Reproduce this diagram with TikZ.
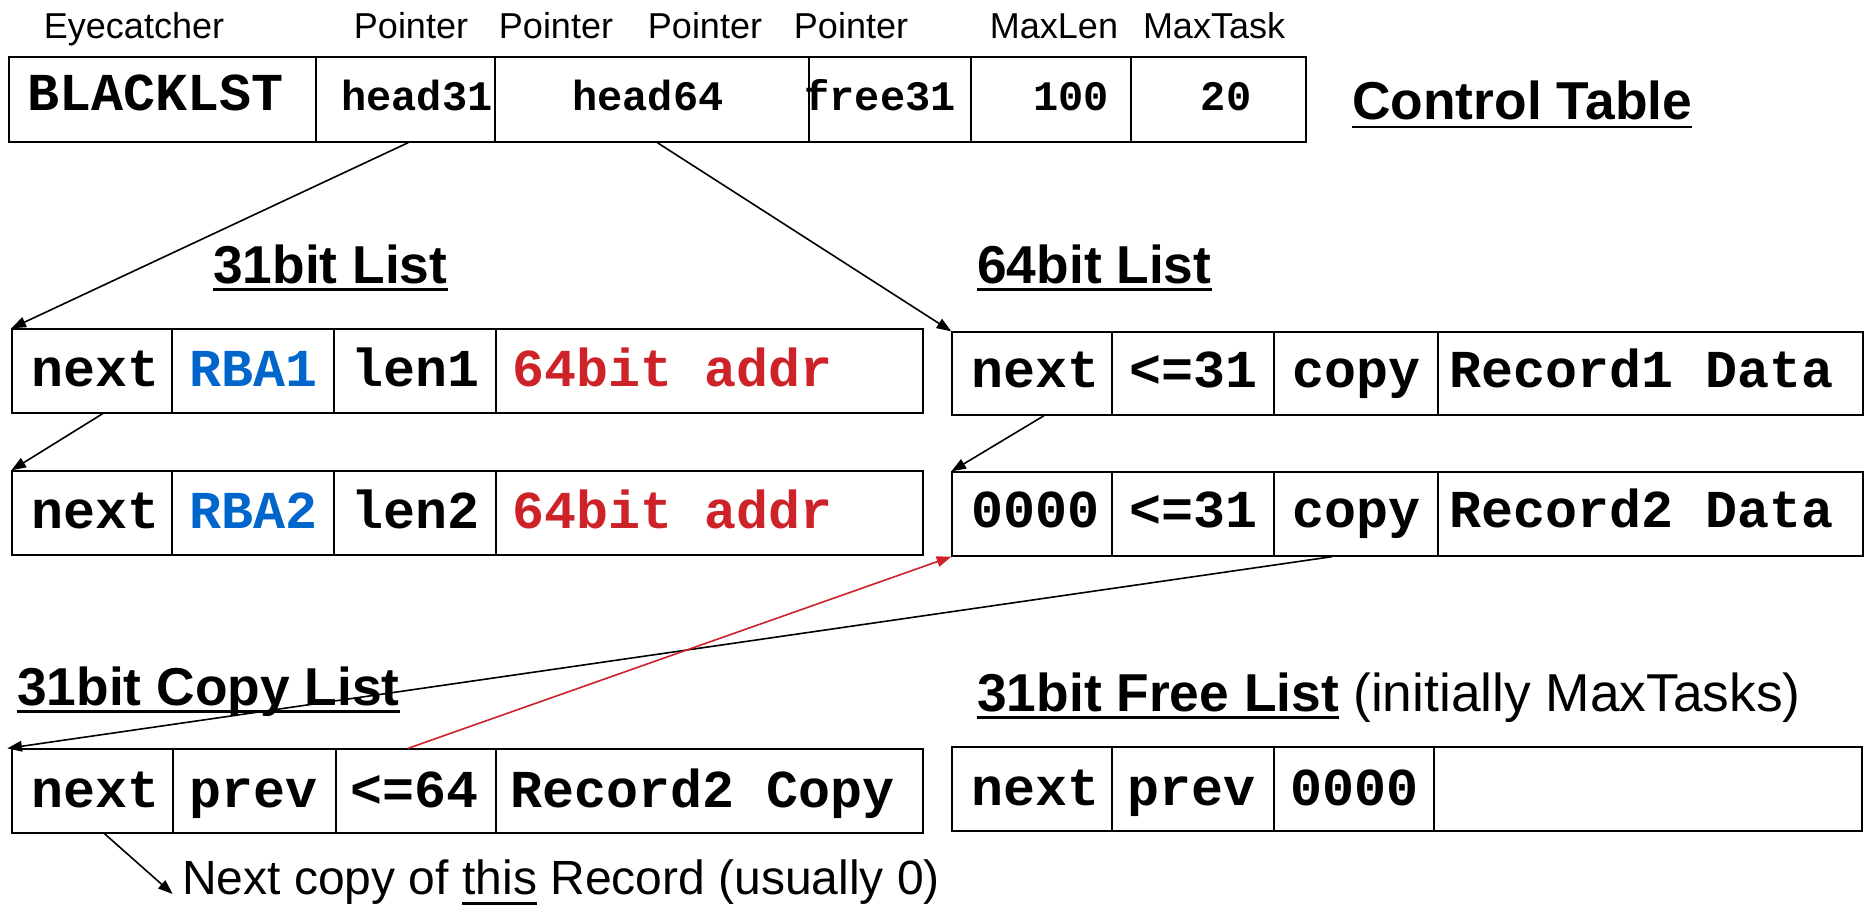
\documentclass[tikz,border=0pt]{standalone}
\usepackage{fontspec}
\setmainfont{Liberation Sans}
\newfontfamily\cour{Liberation Mono}
\usetikzlibrary{fit,arrows.meta}
\definecolor{rbablue}{RGB}{0,102,204}
\definecolor{addrred}{RGB}{204,34,40}
\newcommand\myul[1]{\setbox0\hbox{#1}\rlap{\rule[-8pt]{\wd0}{2.2pt}}\box0\relax}
\begin{document}
\begin{tikzpicture}[x=0.75pt,y=-0.75pt,
  cellbox/.style={draw, line width=1pt, inner sep=0pt},
  rowbox/.style={draw, line width=1.6pt, inner sep=0pt},
  mono/.style={font=\cour\bfseries\fontsize{40}{48}\selectfont, inner sep=0pt, anchor=base},
  ctmono/.style={font=\cour\bfseries\fontsize{31.5}{38}\selectfont, inner sep=0pt, anchor=base},
  hdr/.style={font=\fontsize{27}{32}\selectfont, inner sep=0pt, anchor=base},
  titletext/.style={font=\bfseries\fontsize{40}{48}\selectfont, inner sep=0pt, anchor=base west},
  plaintext/.style={font=\fontsize{40}{48}\selectfont, inner sep=0pt, anchor=base west},
  ulinestyle/.style={line width=2.2pt},
  ptr/.style={line width=1.2pt, -{Triangle[length=11pt,width=8pt]}},
]
\useasboundingbox (0,0) rectangle (1865,904);

% ---------- header labels ----------
\node[hdr] (h1) at (134,38) {Eyecatcher};
\node[hdr] (h2) at (411,38) {Pointer};
\node[hdr] (h3) at (556,38) {Pointer};
\node[hdr] (h4) at (705,38) {Pointer};
\node[hdr] (h5) at (851,38) {Pointer};
\node[hdr] (h6) at (1054,38) {MaxLen};
\node[hdr] (h7) at (1214,38) {MaxTask};

% ---------- control table ----------
\node[cellbox, fit={(9,57)(316,142)}] (ct1) {};
\node[cellbox, fit={(316,57)(495,142)}] (ct2) {};
\node[cellbox, fit={(495,57)(809,142)}] (ct3) {};
\node[cellbox, fit={(809,57)(971,142)}] (ct4) {};
\node[cellbox, fit={(971,57)(1131,142)}] (ct5) {};
\node[cellbox, fit={(1131,57)(1306,142)}] (ct6) {};
\node[rowbox, fit={(9,57)(1306,142)}] (ctrow) {};
\node[mono] (tct1) at (156,110) {BLACKLST};
\node[ctmono] (tct2) at (417,110) {head31};
\node[ctmono] (tct3) at (648,110) {head64};
\node[ctmono] (tct4) at (880,110) {free31};
\node[ctmono] (tct5) at (1071,110) {100};
\node[ctmono] (tct6) at (1226,110) {20};
\node[titletext] (ttl0) at (1352,119) {Control Table};
\draw[ulinestyle] ([yshift=-6pt]ttl0.base west) -- ([yshift=-6pt]ttl0.base east);

% ---------- titles ----------
\node[titletext] (ttl1) at (213,283) {31bit List};
\draw[ulinestyle] ([yshift=-5pt]ttl1.base west) -- ([yshift=-5pt]ttl1.base east);
\node[titletext] (ttl2) at (977,283) {64bit List};
\draw[ulinestyle] ([yshift=-5pt]ttl2.base west) -- ([yshift=-5pt]ttl2.base east);

% ---------- 31bit list ----------
\node[cellbox, fit={(12,329)(172,413)}] (l1a) {};
\node[cellbox, fit={(172,329)(334,413)}] (l1b) {};
\node[cellbox, fit={(334,329)(496,413)}] (l1c) {};
\node[cellbox, fit={(496,329)(923,413)}] (l1d) {};
\node[rowbox, fit={(12,329)(923,413)}] (l1row) {};
\node[mono] (tl1a) at (96,386) {next};
\node[mono, text=rbablue] (tl1b) at (254,386) {RBA1};
\node[mono] (tl1c) at (416,386) {len1};
\node[mono, anchor=base west, text=addrred] (tl1d) at (512,386) {64bit addr};

\node[cellbox, fit={(12,471)(172,555)}] (l2a) {};
\node[cellbox, fit={(172,471)(334,555)}] (l2b) {};
\node[cellbox, fit={(334,471)(496,555)}] (l2c) {};
\node[cellbox, fit={(496,471)(923,555)}] (l2d) {};
\node[rowbox, fit={(12,471)(923,555)}] (l2row) {};
\node[mono] (tl2a) at (96,528) {next};
\node[mono, text=rbablue] (tl2b) at (254,528) {RBA2};
\node[mono] (tl2c) at (416,528) {len2};
\node[mono, anchor=base west, text=addrred] (tl2d) at (512,528) {64bit addr};

% ---------- 64bit list ----------
\node[cellbox, fit={(952,332)(1112,415)}] (r1a) {};
\node[cellbox, fit={(1112,332)(1274,415)}] (r1b) {};
\node[cellbox, fit={(1274,332)(1438,415)}] (r1c) {};
\node[cellbox, fit={(1438,332)(1863,415)}] (r1d) {};
\node[rowbox, fit={(952,332)(1863,415)}] (r1row) {};
\node[mono] (tr1a) at (1035,387) {next};
\node[mono] (tr1b) at (1193,387) {<=31};
\node[mono] (tr1c) at (1356,387) {copy};
\node[mono] (tr1d) at (1642,387) {Record1 Data};

\node[cellbox, fit={(952,472)(1112,556)}] (r2a) {};
\node[cellbox, fit={(1112,472)(1274,556)}] (r2b) {};
\node[cellbox, fit={(1274,472)(1438,556)}] (r2c) {};
\node[cellbox, fit={(1438,472)(1863,556)}] (r2d) {};
\node[rowbox, fit={(952,472)(1863,556)}] (r2row) {};
\node[mono] (tr2a) at (1035,527) {0000};
\node[mono] (tr2b) at (1193,527) {<=31};
\node[mono] (tr2c) at (1356,527) {copy};
\node[mono] (tr2d) at (1642,527) {Record2 Data};

% ---------- copy list ----------
\node[titletext] (ttl3) at (17,705) {31bit Copy List};
\draw[ulinestyle] ([yshift=-5pt]ttl3.base west) -- ([yshift=-5pt]ttl3.base east);
\node[cellbox, fit={(12,749)(173,833)}] (cpa) {};
\node[cellbox, fit={(173,749)(336,833)}] (cpb) {};
\node[cellbox, fit={(336,749)(496,833)}] (cpc) {};
\node[cellbox, fit={(496,749)(923,833)}] (cpd) {};
\node[rowbox, fit={(12,749)(923,833)}] (cprow) {};
\node[mono] (tcpa) at (96,807) {next};
\node[mono] (tcpb) at (254,807) {prev};
\node[mono] (tcpc) at (415,807) {<=64};
\node[mono] (tcpd) at (703,807) {Record2 Copy};

% ---------- free list ----------
\node[titletext] (ttl4) at (977,711) {31bit Free List};
\draw[ulinestyle] ([yshift=-5pt]ttl4.base west) -- ([yshift=-5pt]ttl4.base east);
\node[plaintext] (ttl4b) at (1353,711) {(initially MaxTasks)};
\node[cellbox, fit={(952,747)(1112,831)}] (fra) {};
\node[cellbox, fit={(1112,747)(1274,831)}] (frb) {};
\node[cellbox, fit={(1274,747)(1434,831)}] (frc) {};
\node[cellbox, fit={(1434,747)(1862,831)}] (frd) {};
\node[rowbox, fit={(952,747)(1862,831)}] (frrow) {};
\node[mono] (tfra) at (1035,805) {next};
\node[mono] (tfrb) at (1191,805) {prev};
\node[mono] (tfrc) at (1354,805) {0000};

% ---------- note ----------
\node[font=\fontsize{36}{44}\selectfont, inner sep=0pt, anchor=base west] (note) at (182,894) {Next copy of \myul{this} Record (usually 0)};

% ---------- connectors ----------
\draw[ptr] ([xshift=2pt]ct2.south) -- (l1a.north west);
\draw[ptr] ([xshift=4pt]ct3.south) -- (r1a.north west);
\draw[ptr] ([xshift=8pt]l1a.south) -- (l2a.north west);
\draw[ptr] ([xshift=9pt]r1a.south) -- (r2a.north west);
\draw[ptr] ([xshift=-18pt]r2c.south) -- ([xshift=-3pt]cpa.north west);
\draw[ptr, draw=addrred, fill=addrred] ([xshift=-6pt]cpc.north) -- (r2a.south west);
\draw[ptr] ([xshift=9pt]cpa.south) -- ([xshift=-7pt]note.base west);
\end{tikzpicture}
\end{document}
